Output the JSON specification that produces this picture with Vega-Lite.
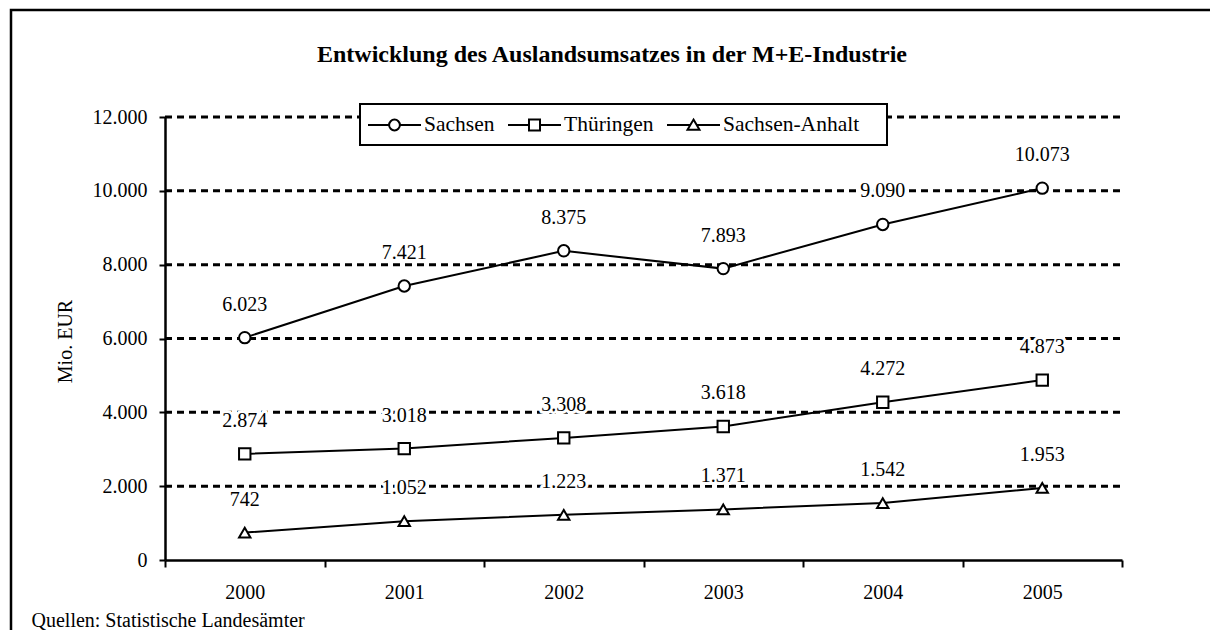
{
  "$schema": "https://vega.github.io/schema/vega-lite/v6.json",
  "width": 1202,
  "height": 622,
  "autosize": {"type": "none"},
  "padding": {"left": 11, "top": 10, "right": 0, "bottom": 0},
  "background": "white",
  "title": {
    "text": "Entwicklung des Auslandsumsatzes in der M+E-Industrie",
    "font": "Liberation Serif",
    "fontSize": 24,
    "fontWeight": "bold",
    "color": "black",
    "anchor": "middle",
    "frame": "group",
    "orient": "top",
    "offset": -57
  },
  "datasets": {
    "main": [
      {"year": 2000, "series": "Sachsen", "value": 6023},
      {"year": 2001, "series": "Sachsen", "value": 7421},
      {"year": 2002, "series": "Sachsen", "value": 8375},
      {"year": 2003, "series": "Sachsen", "value": 7893},
      {"year": 2004, "series": "Sachsen", "value": 9090},
      {"year": 2005, "series": "Sachsen", "value": 10073},
      {"year": 2000, "series": "Thüringen", "value": 2874},
      {"year": 2001, "series": "Thüringen", "value": 3018},
      {"year": 2002, "series": "Thüringen", "value": 3308},
      {"year": 2003, "series": "Thüringen", "value": 3618},
      {"year": 2004, "series": "Thüringen", "value": 4272},
      {"year": 2005, "series": "Thüringen", "value": 4873},
      {"year": 2000, "series": "Sachsen-Anhalt", "value": 742},
      {"year": 2001, "series": "Sachsen-Anhalt", "value": 1052},
      {"year": 2002, "series": "Sachsen-Anhalt", "value": 1223},
      {"year": 2003, "series": "Sachsen-Anhalt", "value": 1371},
      {"year": 2004, "series": "Sachsen-Anhalt", "value": 1542},
      {"year": 2005, "series": "Sachsen-Anhalt", "value": 1953}
    ],
    "gridlines": [
      {"year": 1999.5, "year2": 2005.5, "value": 2000},
      {"year": 1999.5, "year2": 2005.5, "value": 4000},
      {"year": 1999.5, "year2": 2005.5, "value": 6000},
      {"year": 1999.5, "year2": 2005.5, "value": 8000},
      {"year": 1999.5, "year2": 2005.5, "value": 10000},
      {"year": 1999.5, "year2": 2005.5, "value": 12000}
    ]
  },
  "data": {"name": "main"},
  "encoding": {
    "x": {
      "field": "year",
      "type": "quantitative",
      "scale": {"domain": [1999.5, 2005.5], "range": [154, 1111], "nice": false, "zero": false},
      "axis": {
        "orient": "bottom",
        "offset": -72,
        "values": [1999.5, 2000, 2000.5, 2001, 2001.5, 2002, 2002.5, 2003, 2003.5, 2004, 2004.5, 2005, 2005.5],
        "labelExpr": "datum.value % 1 === 0 ? '' + datum.value : ''",
        "tickOpacity": {"condition": {"test": "datum.value % 1 === 0", "value": 0}, "value": 1},
        "tickSize": 7,
        "tickWidth": 2,
        "tickColor": "black",
        "domainColor": "black",
        "domainWidth": 2.5,
        "labelFont": "Liberation Serif",
        "labelFontSize": 20,
        "labelColor": "black",
        "labelPadding": 15,
        "labelOverlap": false,
        "labelFlush": false,
        "labelBound": false,
        "grid": false,
        "title": "Quellen: Statistische Landesämter",
        "titleX": 20,
        "titleY": 66,
        "titleAlign": "left",
        "titleBaseline": "alphabetic",
        "titleFont": "Liberation Serif",
        "titleFontSize": 20,
        "titleFontWeight": "normal",
        "titleColor": "black"
      }
    },
    "y": {
      "field": "value",
      "type": "quantitative",
      "scale": {"domain": [0, 12000], "range": [550, 107], "nice": false, "zero": false},
      "axis": {
        "orient": "left",
        "offset": -154,
        "values": [0, 2000, 4000, 6000, 8000, 10000, 12000],
        "format": ",d",
        "tickSize": 6,
        "tickWidth": 2,
        "tickColor": "black",
        "domainColor": "black",
        "domainWidth": 2.5,
        "labelFont": "Liberation Serif",
        "labelFontSize": 20,
        "labelColor": "black",
        "labelPadding": 12,
        "labelOverlap": false,
        "labelFlush": false,
        "labelBound": false,
        "grid": false,
        "title": "Mio. EUR",
        "titleX": -94,
        "titleY": 331,
        "titleAngle": 270,
        "titleAlign": "center",
        "titleBaseline": "alphabetic",
        "titleFont": "Liberation Serif",
        "titleFontSize": 20,
        "titleFontWeight": "normal",
        "titleColor": "black"
      }
    }
  },
  "layer": [
    {
      "data": {"name": "gridlines"},
      "mark": {"type": "rule", "stroke": "black", "strokeWidth": 3, "strokeDash": [7, 5]},
      "encoding": {
        "x2": {"field": "year2"}
      }
    },
    {
      "mark": {"type": "line", "stroke": "black", "strokeWidth": 2},
      "encoding": {"detail": {"field": "series", "type": "nominal"}}
    },
    {
      "mark": {"type": "point", "filled": true, "fill": "white", "stroke": "black", "strokeWidth": 2, "size": 130, "opacity": 1},
      "encoding": {
        "shape": {
          "field": "series",
          "type": "nominal",
          "scale": {"domain": ["Sachsen", "Thüringen", "Sachsen-Anhalt"], "range": ["circle", "square", "triangle-up"]},
          "legend": null
        }
      }
    },
    {
      "mark": {"type": "text", "font": "Liberation Serif", "fontSize": 20, "baseline": "alphabetic", "dy": -27, "stroke": "white", "strokeWidth": 6, "strokeJoin": "round", "fill": "white"},
      "encoding": {"text": {"field": "value", "type": "quantitative", "format": ",d"}}
    },
    {
      "mark": {"type": "text", "font": "Liberation Serif", "fontSize": 20, "baseline": "alphabetic", "dy": -27, "fill": "black"},
      "encoding": {"text": {"field": "value", "type": "quantitative", "format": ",d"}}
    },
    {
      "transform": [{"filter": "false"}],
      "mark": {"type": "point", "filled": false, "color": "black", "strokeWidth": 2},
      "encoding": {
        "shape": {
          "field": "series",
          "type": "nominal",
          "scale": {
            "domain": ["Sachsen", "Thüringen", "Sachsen-Anhalt"],
            "range": [
              "M0,-0.8M0,0.8M-1.325,0H-0.27M0.27,0H1.325M0.27,0A0.27,0.27,0,1,1,-0.27,0A0.27,0.27,0,1,1,0.27,0Z",
              "M0,-0.8M0,0.8M-1.325,0H-0.275M0.275,0H1.325M-0.275,-0.275H0.275V0.275H-0.275Z",
              "M0,-0.8M0,0.8M-1.325,0H-0.16M0.16,0H1.325M0,-0.27L0.3,0.24H-0.3Z"
            ]
          },
          "legend": {
            "orient": "none",
            "legendX": 349,
            "legendY": 94,
            "direction": "horizontal",
            "title": null,
            "symbolSize": 1600,
            "symbolOffset": 13.5,
            "symbolOpacity": 1,
            "symbolStrokeWidth": 2,
            "symbolStrokeColor": "black",
            "symbolFillColor": "white",
            "labelFont": "Liberation Serif",
            "labelFontSize": 21.5,
            "labelColor": "black",
            "labelOffset": 8.5,
            "labelLimit": 0,
            "labelExpr": "datum.label === 'Sachsen-Anhalt' ? datum.label + '\u00a0\u00a0\u00a0\u00a0\u00a0\u200b' : datum.label",
            "columnPadding": 5,
            "padding": 0,
            "strokeColor": "black",
            "fillColor": "white"
          }
        }
      }
    }
  ],
  "resolve": {"scale": {"shape": "independent"}, "legend": {"shape": "independent"}},
  "config": {
    "view": {"stroke": "black", "strokeWidth": 2.5},
    "font": "Liberation Serif",
    "legend": {"strokeWidth": 2},
    "locale": {
      "number": {"decimal": ",", "thousands": ".", "grouping": [3], "currency": ["", " €"]}
    }
  }
}
